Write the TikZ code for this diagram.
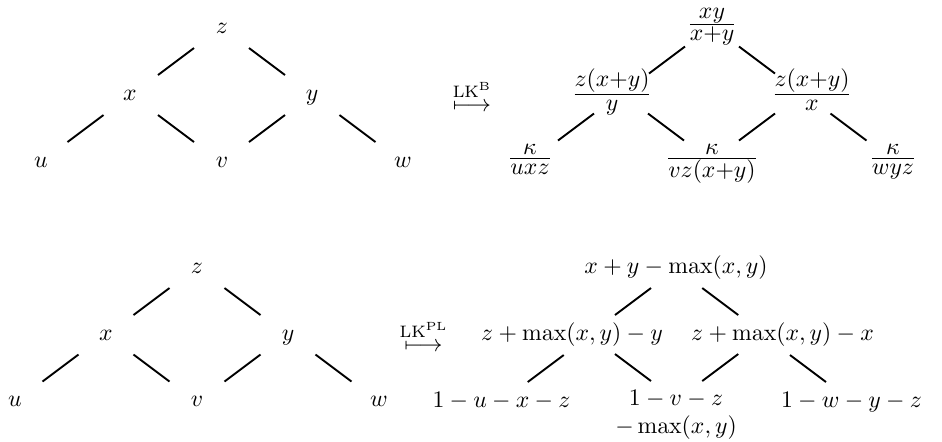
\documentclass[tikz,border=0pt]{standalone}
\usepackage{amsmath}
\usetikzlibrary{calc}
\tikzset{
  lbl/.style ={anchor=base,inner sep=0pt},
  edge/.style={line width=.8pt},
}
\newcommand{\lkmap}[1]{\stackrel{\mathrm{LK}^{\mathrm{#1}}}{\longmapsto}}
\newcommand{\wfrac}[2]{\frac{\textstyle #1}{\textstyle\rule{0pt}{6.3pt}#2}}

\begin{document}
\begin{tikzpicture}[x=.4219pt,y=-.4219pt]
\useasboundingbox (0,0) rectangle (942,441);

% ---- upper row: tree and its Boltzmann weights ---------------------------
\node[lbl] (z1) at (222,33)  {$z$};
\node[lbl] (x1) at (130,100) {$x$};
\node[lbl] (y1) at (312,100) {$y$};
\node[lbl] (u1) at (41,167)  {$u$};
\node[lbl] (v1) at (222,167) {$v$};
\node[lbl] (w1) at (403,167) {$w$};
\foreach \a/\b/\d/\s in {x1/z1/0/1, z1/y1/0/-1, u1/x1/0/1, x1/v1/0/-1, v1/y1/0/1, y1/w1/0/-1}
  \draw[edge] ($(\a.base)!.5!(\b.base)+(\d,-5)$) +(-18,{13.5*(\s)}) -- +(18,{-13.5*(\s)});

\node[lbl] (mapB) at (472,111) {$\lkmap{B}$};

\node[lbl] (t2) at (712,30)  {$\wfrac{xy}{x{+}y}$};
\node[lbl] (l2) at (612,100) {$\wfrac{z(x{+}y)}{y}$};
\node[lbl] (r2) at (812,100) {$\wfrac{z(x{+}y)}{x}$};
\node[lbl] (a2) at (530,164) {$\wfrac{\kappa}{uxz}$};
\node[lbl] (b2) at (712,164) {$\wfrac{\kappa}{vz(x{+}y)}$};
\node[lbl] (c2) at (893,164) {$\wfrac{\kappa}{wyz}$};
\foreach \a/\b/\d/\s in {l2/t2/5/1, t2/r2/-5/-1, a2/l2/5/1, l2/b2/4/-1, b2/r2/-5/1, r2/c2/-4/-1}
  \draw[edge] ($(\a.base)!.5!(\b.base)+(\d,-5)$) +(-18,{13.5*(\s)}) -- +(18,{-13.5*(\s)});

% ---- lower row: tree and its tropical limit -------------------------------
\node[lbl] (z3) at (197,273) {$z$};
\node[lbl] (x3) at (106,340) {$x$};
\node[lbl] (y3) at (288,340) {$y$};
\node[lbl] (u3) at (15,406)  {$u$};
\node[lbl] (v3) at (197,406) {$v$};
\node[lbl] (w3) at (379,406) {$w$};
\foreach \a/\b/\d/\s in {x3/z3/0/1, z3/y3/0/-1, u3/x3/0/1, x3/v3/0/-1, v3/y3/0/1, y3/w3/0/-1}
  \draw[edge] ($(\a.base)!.5!(\b.base)+(\d,-5)$) +(-18,{13.5*(\s)}) -- +(18,{-13.5*(\s)});

\node[lbl] (mapPL) at (423.5,351) {$\lkmap{PL}$};

\node[lbl] (t4) at (676,273)   {$x+y-\max(x,y)$};
\node[lbl] (l4) at (572,340)   {$z+\max(x,y)-y$};
\node[lbl] (r4) at (782.5,340) {$z+\max(x,y)-x$};
\node[lbl] (a4) at (501.5,407) {$1-u-x-z$};
\node[lbl] (b4) at (676,405)   {$\begin{array}[t]{@{}c@{}}1-v-z\\-\max(x,y)\end{array}$};
\node[lbl] (c4) at (851.5,407) {$1-w-y-z$};
\foreach \a/\b/\d/\s in {l4/t4/9/1, t4/r4/-9/-1, a4/l4/9/1, l4/b4/9/-1, b4/r4/-9/1, r4/c4/-9/-1}
  \draw[edge] ($(\a.base)!.5!(\b.base)+(\d,-5)$) +(-18,{13.5*(\s)}) -- +(18,{-13.5*(\s)});
\end{tikzpicture}
\end{document}
